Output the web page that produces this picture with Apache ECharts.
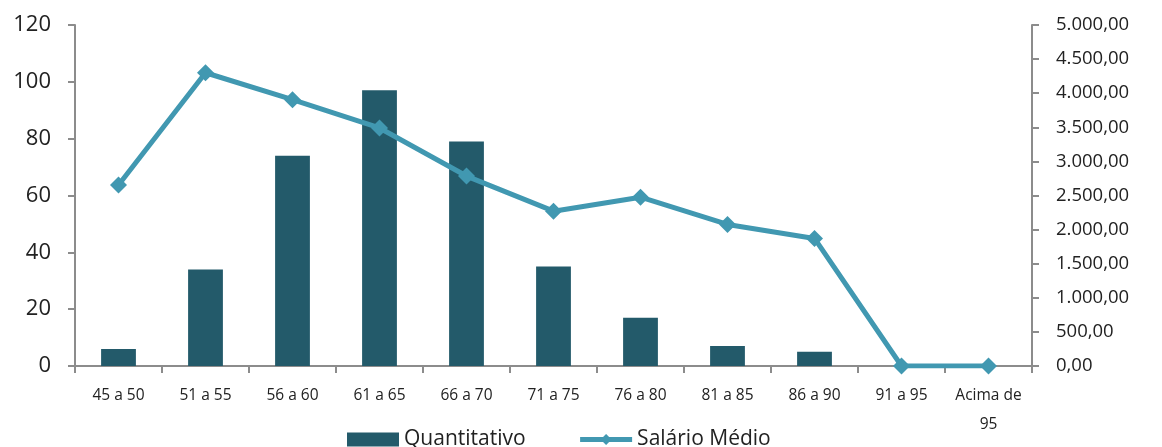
<!DOCTYPE html>
<html><head><meta charset="utf-8">
<script src="https://cdn.jsdelivr.net/npm/echarts@6/dist/echarts.min.js"></script>
<style>html,body{margin:0;padding:0;background:#fff}#c{width:1162px;height:447px}</style>
</head><body><div id="c"></div>
<script>
const categories = ['45 a 50','51 a 55','56 a 60','61 a 65','66 a 70','71 a 75','76 a 80','81 a 85','86 a 90','91 a 95','Acima de\n95'];
const quantitativo = [6, 34, 74, 97, 79, 35, 17, 7, 5, 0, 0];
const salarioMedio = [2655, 4300, 3905, 3490, 2785, 2270, 2475, 2075, 1870, 0, 0];
const leftTicks = {min: 0, max: 120, interval: 20};
const rightTicks = {min: 0, max: 5000, interval: 500};

function fmtBR(v){
  const s = Math.round(v).toString().replace(/\B(?=(\d{3})+(?!\d))/g, '.');
  return s + ',00';
}
const font = '"Open Sans", sans-serif';
const axisGray = '#8c8c8c';
const chart = echarts.init(document.getElementById('c'));
chart.setOption({
  animation: false,
  textStyle: {fontFamily: font},
  grid: {left: 75, right: 130, top: 25, bottom: 81},
  legend: {
    bottom: -8, left: 342,
    itemWidth: 52, itemHeight: 14, itemGap: 52,
    lineStyle: {width: 5},
    textStyle: {fontSize: 21, color: '#222', fontFamily: font},
    data: [{name: 'Quantitativo', icon: 'rect'},
           {name: 'Salário Médio'}]
  },
  xAxis: {
    type: 'category', data: categories,
    axisLine: {lineStyle: {color: axisGray, width: 2}},
    axisTick: {show: true, length: 7, lineStyle: {color: axisGray, width: 2}},
    axisLabel: {interval: 0, fontSize: 15.5, color: '#222', margin: 15, lineHeight: 29, fontFamily: font}
  },
  yAxis: [{
    type: 'value', min: leftTicks.min, max: leftTicks.max, interval: leftTicks.interval,
    splitLine: {show: false},
    axisLine: {show: true, lineStyle: {color: axisGray, width: 2}},
    axisTick: {show: true, length: 7, lineStyle: {color: axisGray, width: 2}},
    axisLabel: {fontSize: 22, color: '#222', margin: 24, fontFamily: font}
  }, {
    type: 'value', min: rightTicks.min, max: rightTicks.max, interval: rightTicks.interval,
    position: 'right',
    splitLine: {show: false},
    axisLine: {show: true, lineStyle: {color: axisGray, width: 2}},
    axisTick: {show: true, length: 7, lineStyle: {color: axisGray, width: 2}},
    axisLabel: {fontSize: 18.5, color: '#222', margin: 24, fontFamily: font, formatter: fmtBR}
  }],
  series: [{
    name: 'Quantitativo', type: 'bar', yAxisIndex: 0, data: quantitativo,
    barWidth: '40%', itemStyle: {color: '#235A6A'}
  }, {
    name: 'Salário Médio', type: 'line', yAxisIndex: 1, data: salarioMedio,
    symbol: 'diamond', symbolSize: 17,
    lineStyle: {color: '#4198B1', width: 5},
    itemStyle: {color: '#4198B1'}
  }]
});
</script></body></html>
